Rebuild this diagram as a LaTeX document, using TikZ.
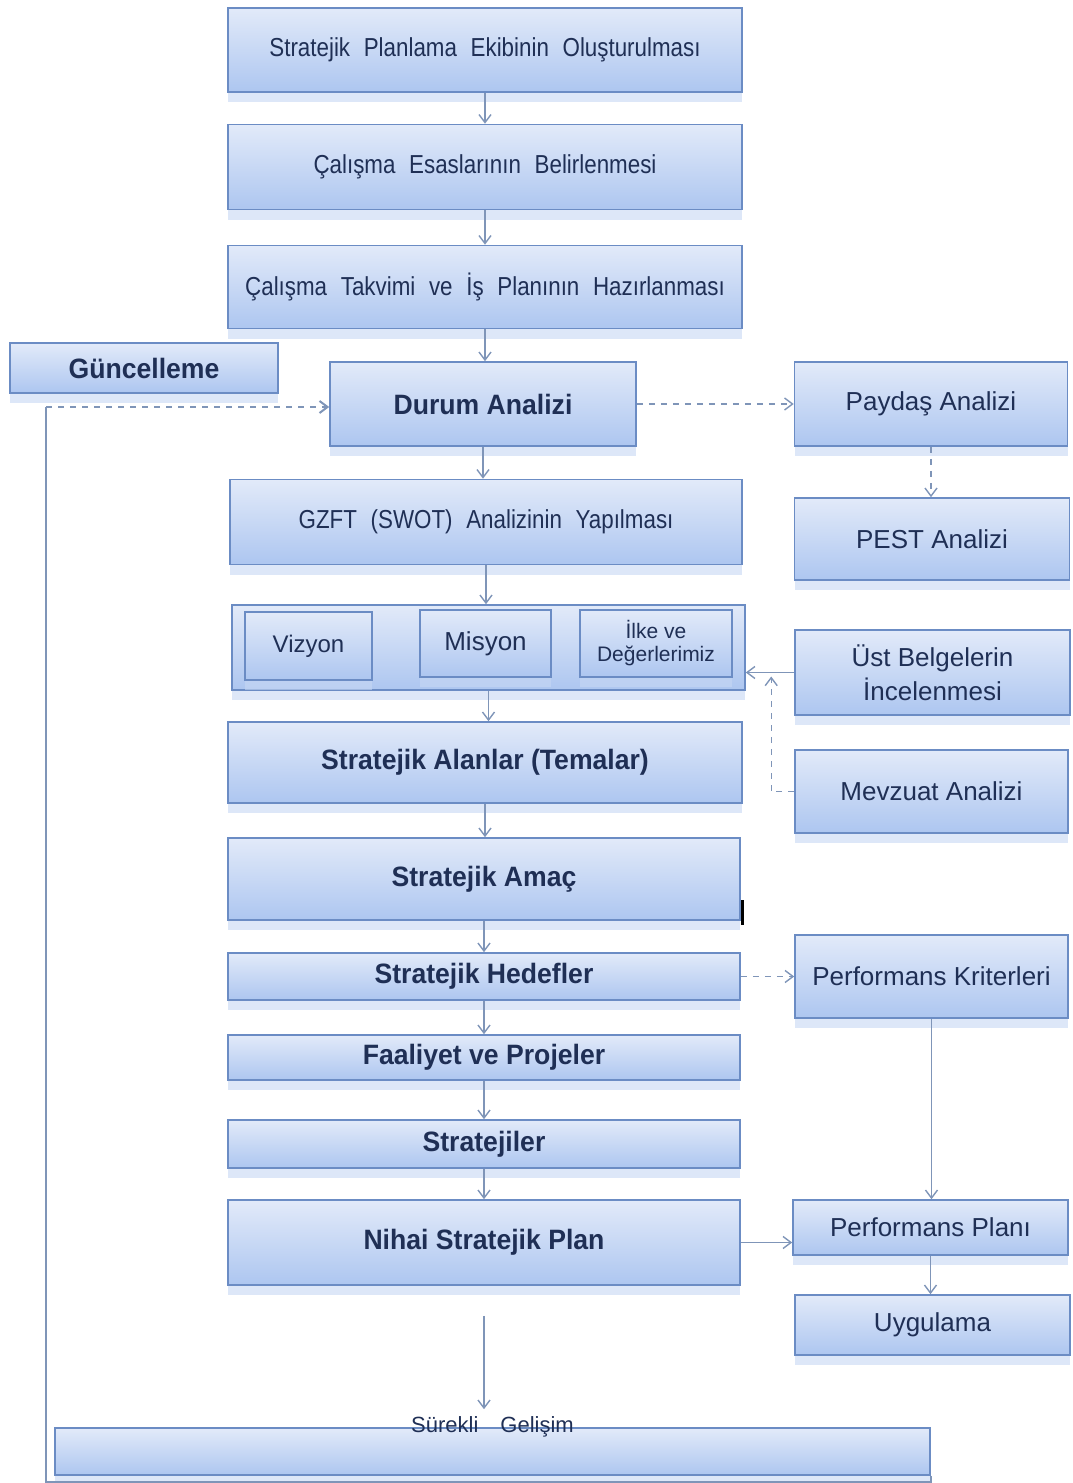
\documentclass[tikz,border=0pt]{standalone}
\usepackage{fontspec}
\setmainfont{Liberation Sans}
\newfontfamily\genis{Liberation Sans}[FakeStretch=0.86,WordSpace=2.2]
\newfontfamily\dar{Liberation Sans}[FakeStretch=0.95]
\usetikzlibrary{arrows.meta,shadows}
\definecolor{kenar}{HTML}{6B8CC4}
\definecolor{ustrenk}{HTML}{E2EAF9}
\definecolor{altrenk}{HTML}{ADC6F0}
\definecolor{yazi}{HTML}{1F2F55}
\definecolor{ok}{HTML}{7F95B8}
\begin{document}
\begin{tikzpicture}[x=0.5pt,y=-0.5pt,
  kutu/.style={draw=kenar,line width=0.8pt,top color=ustrenk,bottom color=altrenk,
    text=yazi,align=center,inner sep=2pt,font=\fontsize{13}{15}\selectfont,
    drop shadow={shadow xshift=0pt,shadow yshift=-5pt,fill=altrenk!70,opacity=.6}},
  kalin/.style={kutu,font=\fontsize{14}{16}\selectfont\dar\bfseries},
  ic/.style={kutu,drop shadow={opacity=0},font=\fontsize{12}{14}\selectfont},
  arr/.style={draw=ok,line width=0.7pt,-{Straight Barb[length=4pt,width=6pt]}},
  cizgi/.style={draw=ok,line width=0.8pt}]
  \useasboundingbox (0,0) rectangle (1072,1483);

  % ana akis
  \node[kutu,minimum width=257pt,minimum height=42pt] (ekip) at (485,50) {\genis Stratejik Planlama Ekibinin Oluşturulması};
  \node[kutu,minimum width=257pt,minimum height=42.5pt] (esas) at (485,167) {\genis Çalışma Esaslarının Belirlenmesi};
  \node[kutu,minimum width=257pt,minimum height=41.5pt] (takvim) at (485,287) {\genis Çalışma Takvimi ve İş Planının Hazırlanması};
  \node[kalin,minimum width=134pt,minimum height=25pt] (guncel) at (144,368) {Güncelleme};
  \node[kalin,minimum width=153pt,minimum height=42pt] (durum) at (483,404) {Durum Analizi};
  \node[kutu,minimum width=256pt,minimum height=42.5pt] (gzft) at (486,522) {\genis GZFT (SWOT) Analizinin Yapılması};
  \node[kutu,minimum width=256.5pt,minimum height=42.5pt] (cerceve) at (488.5,647.5) {};
  \node[ic,minimum width=63.5pt,minimum height=34pt] (vizyon) at (308.5,646) {Vizyon};
  \node[ic,minimum width=65.5pt,minimum height=33.5pt,font=\fontsize{13}{15}\selectfont] (misyon) at (485.5,643.5) {Misyon};
  \node[ic,minimum width=76pt,minimum height=33.5pt,
    font=\fontsize{10.5}{11.5}\selectfont] (ilke) at (656,643.5) {İlke ve\\Değerlerimiz};
  \node[kalin,minimum width=257pt,minimum height=40.5pt] (alan) at (485,762.5) {Stratejik Alanlar (Temalar)};
  \node[kalin,minimum width=256pt,minimum height=41pt] (amac) at (484,879) {Stratejik Amaç};
  \node[kalin,minimum width=256pt,minimum height=23.5pt] (hedef) at (484,976.5) {Stratejik Hedefler};
  \node[kalin,minimum width=256pt,minimum height=22.5pt] (faaliyet) at (484,1057.5) {Faaliyet ve Projeler};
  \node[kalin,minimum width=256pt,minimum height=24pt] (strateji) at (484,1144) {Stratejiler};
  \node[kalin,minimum width=256pt,minimum height=42.5pt] (nihai) at (484,1242.5) {Nihai Stratejik Plan};
  \node[kutu,minimum width=437.5pt,minimum height=23.5pt,
    label={[anchor=center,text=yazi,font=\fontsize{11}{13}\selectfont]north:{Sürekli\quad Gelişim}}] (surekli) at (492.5,1451.5) {};

  % sag sutun
  \node[kutu,minimum width=136.5pt,minimum height=42pt] (paydas) at (931,404) {Paydaş Analizi};
  \node[kutu,minimum width=137.5pt,minimum height=41pt] (pest) at (932,539) {PEST Analizi};
  \node[kutu,minimum width=137.5pt,minimum height=42.5pt,font=\fontsize{13}{17}\selectfont] (ust) at (932.5,672.5) {Üst Belgelerin\\İncelenmesi};
  \node[kutu,minimum width=136.5pt,minimum height=41.5pt] (mevzuat) at (931.5,791.5) {Mevzuat Analizi};
  \node[kutu,minimum width=136.5pt,minimum height=41.5pt] (kriter) at (931.5,976.5) {Performans Kriterleri};
  \node[kutu,minimum width=137.5pt,minimum height=27.5pt] (pplan) at (930.5,1227.5) {Performans Planı};
  \node[kutu,minimum width=137.5pt,minimum height=30pt] (uygulama) at (932.5,1325) {Uygulama};

  % oklar
  \foreach \a/\b in {ekip/esas,esas/takvim,takvim/durum,durum/gzft,gzft/cerceve,cerceve/alan,
    alan/amac,amac/hedef,hedef/faaliyet,faaliyet/strateji,strateji/nihai}
    \draw[arr] (\a.south) -- (\a.south |- \b.north);
  \draw[arr,dashed] (durum) -- (paydas);
  \draw[arr,dashed] (paydas.south) -- (paydas.south |- pest.north);
  \draw[arr] (ust.west) -- (ust.west -| cerceve.east);
  \draw[arr,dashed] (mevzuat.west) -- ++(-23,0) -- ++(0,-115);
  \draw[arr,dashed] (hedef.east) -- (kriter.west);
  \draw[arr] (kriter.south) -- (kriter.south |- pplan.north);
  \draw[arr] (nihai.east) -- (nihai.east -| pplan.west);
  \draw[arr] (pplan.south) -- (pplan.south |- uygulama.north);
  \coordinate (sg) at (nihai.south |- surekli.north);
  \draw[arr] ([yshift=-15pt]nihai.south) -- ([yshift=9pt]sg);
  \draw[line width=1.5pt] ([xshift=1pt,yshift=-10.5pt]amac.east) -- ++(0,25);

  % geri donus
  \coordinate (donus) at (46,407);
  \draw[cizgi] (surekli.south east) -- ++(0,6) -| (donus);
  \draw[arr,dashed,line width=1pt] (donus) -- (donus -| durum.west);
\end{tikzpicture}
\end{document}
